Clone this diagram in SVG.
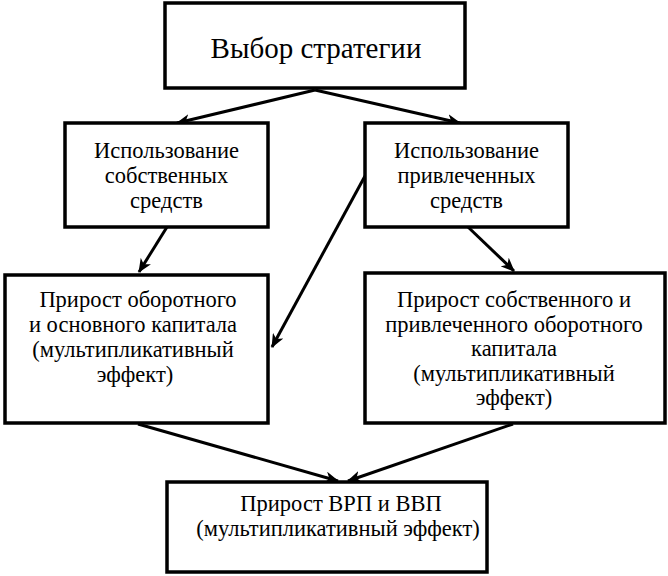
<svg xmlns="http://www.w3.org/2000/svg" width="668" height="576" viewBox="0 0 668 576">
<style>
.box{fill:#fff;stroke:#000;stroke-width:3.5}
.c{stroke:#000;stroke-width:3;fill:none;marker-end:url(#ah)}
text{font-family:'Liberation Serif','Times New Roman',serif !important}
</style>
<defs>
<marker id="ah" markerUnits="userSpaceOnUse" markerWidth="14" markerHeight="12" viewBox="0 0 14 12" refX="13" refY="6" orient="auto">
<path d="M0,0 L14,6 L0,12 L4,6 Z" fill="#000"/>
</marker>
</defs>
<rect width="668" height="576" fill="#fff"/>
<g id="connectors">
<line class="c" x1="315" y1="90" x2="177" y2="123"/>
<line class="c" x1="315" y1="90" x2="460" y2="123"/>
<line class="c" x1="167" y1="227" x2="139" y2="272"/>
<line class="c" x1="468" y1="227" x2="514" y2="271"/>
<line class="c" x1="365" y1="176" x2="272" y2="347"/>
<line class="c" x1="138" y1="424" x2="338" y2="481"/>
<line class="c" x1="513" y1="424" x2="348" y2="481"/>
</g>
<g id="n1">
<rect class="box" x="165" y="3" width="300" height="85"/>
<text x="316" y="58" text-anchor="middle" font-size="29" font-family="Liberation Serif" style="font-family:'Liberation Serif',serif !important">Выбор стратегии</text>
</g>
<g id="n2">
<rect class="box" x="65" y="123" width="203" height="104"/>
<text x="166.5" y="158" text-anchor="middle" font-size="22.5" font-family="Liberation Serif" style="font-family:'Liberation Serif',serif !important">Использование</text>
<text x="166.5" y="183" text-anchor="middle" font-size="22.5" font-family="Liberation Serif" style="font-family:'Liberation Serif',serif !important">собственных</text>
<text x="166.5" y="208" text-anchor="middle" font-size="22.5" font-family="Liberation Serif" style="font-family:'Liberation Serif',serif !important">средств</text>
</g>
<g id="n3">
<rect class="box" x="365" y="123" width="203" height="104"/>
<text x="466.5" y="158" text-anchor="middle" font-size="22.5" font-family="Liberation Serif" style="font-family:'Liberation Serif',serif !important">Использование</text>
<text x="466.5" y="183" text-anchor="middle" font-size="22.5" font-family="Liberation Serif" style="font-family:'Liberation Serif',serif !important">привлеченных</text>
<text x="466.5" y="208" text-anchor="middle" font-size="22.5" font-family="Liberation Serif" style="font-family:'Liberation Serif',serif !important">средств</text>
</g>
<g id="n4">
<rect class="box" x="5" y="275" width="263" height="148"/>
<text x="138" y="307" text-anchor="middle" font-size="22.5" font-family="Liberation Serif" style="font-family:'Liberation Serif',serif !important">Прирост оборотного</text>
<text x="133" y="332" text-anchor="middle" font-size="22.5" font-family="Liberation Serif" style="font-family:'Liberation Serif',serif !important">и основного капитала</text>
<text x="133" y="357" text-anchor="middle" font-size="22.5" font-family="Liberation Serif" style="font-family:'Liberation Serif',serif !important">(мультипликативный</text>
<text x="135" y="382" text-anchor="middle" font-size="22.5" font-family="Liberation Serif" style="font-family:'Liberation Serif',serif !important">эффект)</text>
</g>
<g id="n5">
<rect class="box" x="365" y="273" width="300" height="150"/>
<text x="514" y="307" text-anchor="middle" font-size="22.5" font-family="Liberation Serif" style="font-family:'Liberation Serif',serif !important">Прирост собственного и</text>
<text x="514" y="331.5" text-anchor="middle" font-size="22.5" font-family="Liberation Serif" style="font-family:'Liberation Serif',serif !important">привлеченного оборотного</text>
<text x="514" y="356" text-anchor="middle" font-size="22.5" font-family="Liberation Serif" style="font-family:'Liberation Serif',serif !important">капитала</text>
<text x="514" y="380.5" text-anchor="middle" font-size="22.5" font-family="Liberation Serif" style="font-family:'Liberation Serif',serif !important">(мультипликативный</text>
<text x="514" y="405" text-anchor="middle" font-size="22.5" font-family="Liberation Serif" style="font-family:'Liberation Serif',serif !important">эффект)</text>
</g>
<g id="n6">
<rect class="box" x="167" y="482" width="320" height="90"/>
<text x="341" y="511" text-anchor="middle" font-size="22.5" font-family="Liberation Serif" style="font-family:'Liberation Serif',serif !important">Прирост ВРП и ВВП</text>
<text x="338" y="536" text-anchor="middle" font-size="22.5" font-family="Liberation Serif" style="font-family:'Liberation Serif',serif !important">(мультипликативный эффект)</text>
</g>
</svg>
